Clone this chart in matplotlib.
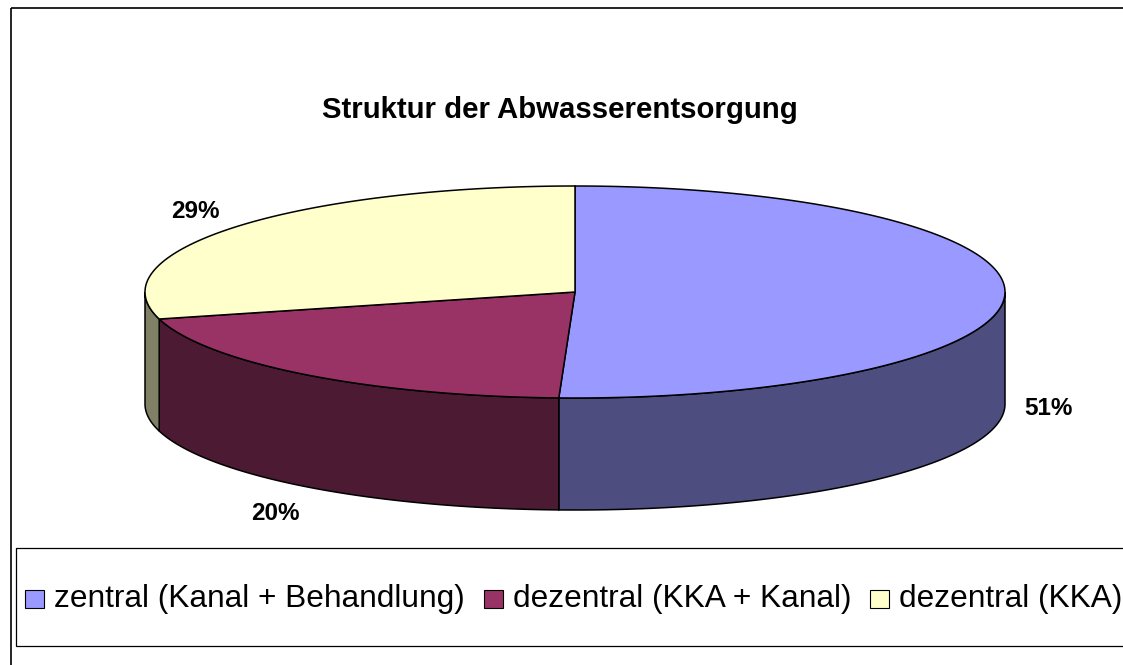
import numpy as np
import matplotlib
matplotlib.use("Agg")
import matplotlib.pyplot as plt
from matplotlib.patches import Polygon, Rectangle

# data
title = "Struktur der Abwasserentsorgung"
labels = ["zentral (Kanal + Behandlung)", "dezentral (KKA + Kanal)", "dezentral (KKA)"]
shares = [50.6, 20.3, 29.1]
top_colors = ["#9999FF", "#993366", "#FFFFCC"]
side_colors = ["#4D4D80", "#4D1A33", "#808066"]

# layout (pixel coords)
cx, cy, rx, ry, depth = 575, 292, 430, 106, 112
pct_pos = [(1048, 415), (275, 520), (195, 218)]

plt.rcParams["font.family"] = ["Liberation Sans", "DejaVu Sans"]

fig = plt.figure(figsize=(11.23, 6.65), dpi=100)
ax = fig.add_axes([0, 0, 1, 1])
ax.set_xlim(0, 1123)
ax.set_ylim(665, 0)
ax.axis("off")


def arc(t0, t1, n=240):
    t = np.radians(np.linspace(t0, t1, n))
    return np.column_stack([cx + rx * np.cos(t), cy - ry * np.sin(t)])


fracs = np.array(shares) / sum(shares)
bounds = 90 - 360 * np.concatenate([[0], np.cumsum(fracs)])

# side walls (front half only)
for i in range(len(shares)):
    s, e = bounds[i], bounds[i + 1]
    lo, hi = max(e, -180), min(s, 0)
    if lo < hi:
        top = arc(hi, lo)
        bot = top[::-1] + [0, depth]
        ax.add_patch(Polygon(np.vstack([top, bot]), closed=True,
                             fc=side_colors[i], ec="black", lw=1.1))

# top wedges
for i in range(len(shares)):
    pts = np.vstack([[cx, cy], arc(bounds[i], bounds[i + 1])])
    ax.add_patch(Polygon(pts, closed=True, fc=top_colors[i], ec="black", lw=1.1))

for v, (x, y) in zip(shares, pct_pos):
    ax.text(x, y, f"{v:.0f}%", ha="center", va="baseline",
            fontsize=17.5, fontweight="bold")

ax.text(560, 118, title, ha="center", va="baseline", fontsize=21.2, fontweight="bold")

# frames
ax.add_patch(Rectangle((11, 8), 1300, 800, fill=False, ec="black", lw=1.2))
ax.add_patch(Rectangle((16, 548), 1300, 98, fill=False, ec="black", lw=0.9))

# legend
fig.canvas.draw()
renderer = fig.canvas.get_renderer()
x = 25
for lab, col in zip(labels, top_colors):
    ax.add_patch(Rectangle((x, 590), 19, 18, fc=col, ec="black", lw=0.8))
    t = ax.text(x + 29, 607, lab, ha="left", va="baseline", fontsize=22.8)
    bb = t.get_window_extent(renderer)
    x = bb.x1 + 19

fig.savefig("out.png", dpi=100)
